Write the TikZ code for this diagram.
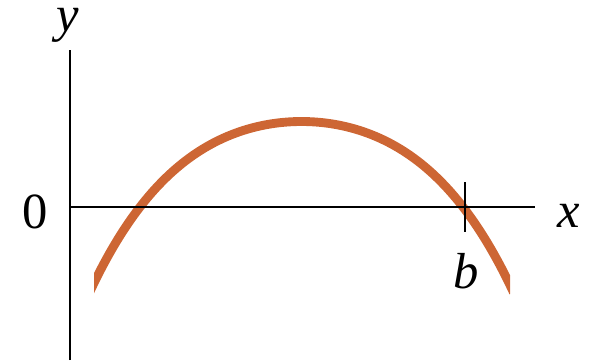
\documentclass[tikz,border=0pt]{standalone}
\usepackage{fontspec}
\setmainfont{Liberation Serif}
\usetikzlibrary{positioning}
\definecolor{arccol}{RGB}{205,102,52}

\begin{document}
\begin{tikzpicture}[
    x=0.025cm, y=-0.025cm,
    every node/.style={font=\fontsize{36}{40}\selectfont, inner sep=0pt},
    ax/.style={line width=1.4pt},
    crv/.style={line width=6.3pt, arccol},
    lbl/.style={anchor=base},
  ]
  \useasboundingbox (0,0) rectangle (592,362);
  \coordinate (o) at (70,207);
  \coordinate (ytop) at (70,50);
  \coordinate (ybot) at (70,360);
  \coordinate (xend) at (535,207);
  \coordinate (bup) at (465,182);
  \coordinate (bdn) at (465,232);
  % the arch, cut off straight at both ends
  \begin{scope}
    \clip (94,0) rectangle (510,362);
    \draw[crv, domain=-2.12:2.12, samples=90, smooth]
      plot ({301.5+100*\x}, {121.5+25.51*\x*\x+2.786*\x*\x*\x*\x});
  \end{scope}
  \draw[ax] (ybot) -- (ytop);
  \draw[ax] (o) -- (xend);
  \draw[ax] (bup) -- (bdn);
  \node[lbl] (ylab) at (68,31) {\textit{y}};
  \node[lbl] (zero) at (35.5,228) {0};
  \node[lbl] (xlab) at (569,227) {\textit{x}};
  \node[lbl] (blab) at (466,288) {\textit{b}};
\end{tikzpicture}
\end{document}
